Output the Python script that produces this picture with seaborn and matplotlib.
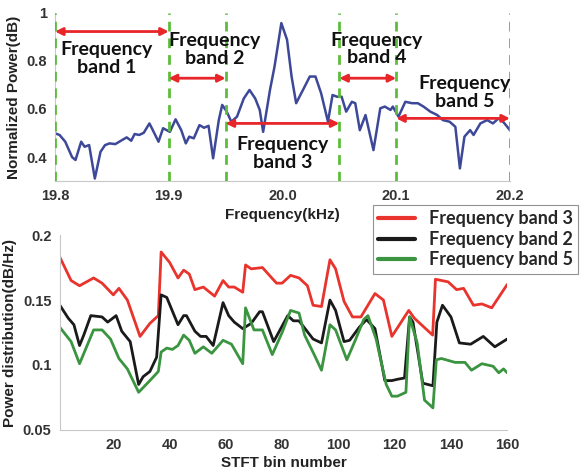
import matplotlib
matplotlib.use("Agg")
import matplotlib.pyplot as plt
import seaborn as sns
import numpy as np
import pandas as pd

# ---- top panel data: normalized power vs frequency ----
freq_khz = [19.800, 19.804, 19.809, 19.815, 19.818, 19.823, 19.826, 19.830, 19.835, 19.840,
            19.844, 19.848, 19.853, 19.859, 19.863, 19.867, 19.870, 19.874, 19.878, 19.883,
            19.886, 19.891, 19.895, 19.901, 19.906, 19.911, 19.915, 19.918, 19.922, 19.927,
            19.931, 19.935, 19.939, 19.944, 19.947, 19.951, 19.955, 19.960, 19.966, 19.971,
            19.976, 19.980, 19.983, 19.989, 19.993, 19.999, 20.004, 20.008, 20.012, 20.018,
            20.024, 20.029, 20.034, 20.040, 20.044, 20.048, 20.052, 20.056, 20.061, 20.064,
            20.068, 20.073, 20.080, 20.086, 20.090, 20.095, 20.097, 20.102, 20.108, 20.114,
            20.119, 20.124, 20.130, 20.136, 20.141, 20.147, 20.152, 20.156, 20.160, 20.165,
            20.168, 20.174, 20.180, 20.185, 20.190, 20.194, 20.200]
norm_power = [0.499, 0.492, 0.464, 0.400, 0.388, 0.464, 0.443, 0.450, 0.311, 0.422,
              0.450, 0.457, 0.454, 0.471, 0.482, 0.468, 0.496, 0.492, 0.501, 0.540,
              0.512, 0.464, 0.520, 0.505, 0.557, 0.512, 0.457, 0.485, 0.478, 0.533,
              0.522, 0.530, 0.395, 0.554, 0.617, 0.589, 0.547, 0.568, 0.644, 0.679,
              0.644, 0.596, 0.505, 0.679, 0.776, 0.957, 0.888, 0.735, 0.624, 0.679,
              0.735, 0.735, 0.665, 0.547, 0.658, 0.651, 0.651, 0.589, 0.630, 0.624,
              0.512, 0.575, 0.429, 0.603, 0.610, 0.596, 0.610, 0.568, 0.630, 0.624,
              0.624, 0.610, 0.589, 0.575, 0.554, 0.547, 0.526, 0.353, 0.485, 0.512,
              0.492, 0.540, 0.554, 0.540, 0.561, 0.547, 0.512]

band_edges = [19.80, 19.90, 19.95, 20.05, 20.10, 20.20]
band_names = ["Frequency\nband 1", "Frequency\nband 2", "Frequency\nband 3",
              "Frequency\nband 4", "Frequency\nband 5"]

# ---- bottom panel data: power distribution vs STFT bin ----
red_bins = [1, 5, 8, 13, 16, 20, 22, 25, 29.5, 33, 36, 37, 40, 43, 45, 47, 49, 52, 56, 59,
            61, 63, 66, 67, 69, 73, 78, 80, 83, 86, 89, 91, 94, 97, 99, 102, 105, 108, 113,
            116, 119, 125, 127, 133.5, 134.5, 139, 142, 144.5, 148, 151, 154.5, 160]
red_vals = [0.183, 0.165, 0.161, 0.167, 0.163, 0.154, 0.159, 0.150, 0.122, 0.132, 0.138, 0.187,
            0.179, 0.167, 0.173, 0.170, 0.158, 0.160, 0.153, 0.165, 0.160, 0.160, 0.156, 0.177,
            0.174, 0.175, 0.163, 0.163, 0.169, 0.167, 0.161, 0.146, 0.145, 0.181, 0.174, 0.149,
            0.137, 0.137, 0.155, 0.150, 0.122, 0.142, 0.136, 0.123, 0.166, 0.164, 0.158, 0.159,
            0.146, 0.147, 0.144, 0.162]

black_bins = [1, 4, 6, 8, 9.5, 12, 16, 18, 21, 23, 26, 29, 30.6, 33, 35.4, 37, 39, 43, 45, 46,
              49, 51, 53, 55.5, 59, 61, 63, 66, 69, 72, 73, 77, 79.5, 82, 84, 86, 91, 94, 97,
              99, 102, 104, 107.4, 110, 113, 116.5, 119, 121, 123.5, 125.3, 126.5, 130, 133.6,
              135, 137, 140, 143, 147, 151.5, 155.6, 160]
black_vals = [0.146, 0.136, 0.131, 0.115, 0.123, 0.138, 0.137, 0.133, 0.138, 0.126, 0.118, 0.085,
              0.091, 0.095, 0.106, 0.154, 0.152, 0.131, 0.138, 0.138, 0.126, 0.122, 0.122, 0.115,
              0.148, 0.138, 0.133, 0.128, 0.132, 0.141, 0.141, 0.118, 0.128, 0.138, 0.134, 0.134,
              0.120, 0.117, 0.150, 0.142, 0.118, 0.119, 0.129, 0.135, 0.128, 0.088, 0.088, 0.089,
              0.090, 0.137, 0.133, 0.086, 0.084, 0.133, 0.146, 0.137, 0.117, 0.116, 0.122, 0.114,
              0.120]

green_bins = [1, 5, 8, 13, 16, 19, 22, 25, 29, 33, 36, 37, 39, 41, 43, 45, 47, 49, 52, 55, 59,
              62, 66, 67, 70, 73, 76.5, 80, 83, 86, 88, 91.4, 94, 97, 99, 103, 106, 109, 110.5,
              113.4, 117, 119, 121, 124, 125.3, 128, 130.6, 133.6, 134.8, 136.6, 141.5, 145,
              147.3, 151, 155, 157, 158.7, 160]
green_vals = [0.129, 0.118, 0.101, 0.127, 0.127, 0.120, 0.105, 0.097, 0.079, 0.088, 0.095, 0.110,
              0.113, 0.112, 0.115, 0.123, 0.119, 0.109, 0.114, 0.109, 0.119, 0.116, 0.101, 0.144,
              0.127, 0.127, 0.108, 0.125, 0.142, 0.140, 0.123, 0.108, 0.096, 0.131, 0.127, 0.104,
              0.119, 0.135, 0.138, 0.120, 0.085, 0.076, 0.076, 0.079, 0.137, 0.117, 0.073, 0.067,
              0.104, 0.105, 0.102, 0.102, 0.096, 0.101, 0.099, 0.094, 0.097, 0.094]

series_labels = ["Frequency band 3", "Frequency band 2", "Frequency band 5"]
series_colors = ["#e8342c", "#1a1a1a", "#3a9440"]

sns.set_style("white")
plt.rcParams['font.family'] = ['Liberation Sans', 'DejaVu Sans']

fig = plt.figure(figsize=(5.81, 4.73), dpi=100)
ax1 = fig.add_axes([0.0947, 0.617, 0.783, 0.356])
ax2 = fig.add_axes([0.103, 0.091, 0.770, 0.412])

tick_color = "#333333"
spine_color = "#c8c8c8"
ann_font = ['Lato', 'DejaVu Sans']

# top panel
top_df = pd.DataFrame({"f": freq_khz, "p": norm_power})
sns.lineplot(data=top_df, x="f", y="p", ax=ax1, color="#3d4899", lw=1.8)
for e in band_edges:
    ax1.axvline(e, color="#5cbd3a", lw=2, ls=(0, (3.5, 2.5)), zorder=3)

arrow_y = [0.922, 0.728, 0.540, 0.728, 0.561]
label_pos = [(19.845, 0.81), (19.94, 0.846), (20.0, 0.415), (20.083, 0.85), (20.160, 0.668)]
for i in range(5):
    ax1.annotate("", xy=(band_edges[i], arrow_y[i]), xytext=(band_edges[i + 1], arrow_y[i]),
                 arrowprops=dict(arrowstyle="<|-|>", color="#e8262a", lw=2,
                                 mutation_scale=11, shrinkA=0, shrinkB=0), zorder=4)
    ax1.text(label_pos[i][0], label_pos[i][1], band_names[i], ha="center", va="center",
             fontsize=14, fontweight="bold", family=ann_font, color="#111111",
             linespacing=1.05, zorder=5)

ax1.set_xlim(19.8, 20.2)
ax1.set_ylim(0.3, 1.0)
ax1.set_xticks([19.8, 19.9, 20.0, 20.1, 20.2])
ax1.set_xticklabels(["19.8", "19.9", "20.0", "20.1", "20.2"])
ax1.set_xticks([19.85, 19.95, 20.05, 20.15], minor=True)
ax1.set_yticks([0.4, 0.6, 0.8, 1.0])
ax1.set_yticklabels(["0.4", "0.6", "0.8", "1"])
ax1.set_xlabel("Frequency(kHz)", fontsize=11, fontweight="bold", color="#222222", labelpad=3)
ax1.set_ylabel("Normalized Power(dB)", fontsize=11, fontweight="bold", color="#222222", labelpad=4)

# bottom panel
for bins, vals, lab, col in [(red_bins, red_vals, series_labels[0], series_colors[0]),
                             (black_bins, black_vals, series_labels[1], series_colors[1]),
                             (green_bins, green_vals, series_labels[2], series_colors[2])]:
    d = pd.DataFrame({"bin": bins, "val": vals})
    sns.lineplot(data=d, x="bin", y="val", ax=ax2, color=col, lw=2, label=lab)

ax2.set_xlim(1, 160)
ax2.set_ylim(0.05, 0.2)
ax2.set_xticks([20, 40, 60, 80, 100, 120, 140, 160])
ax2.set_yticks([0.05, 0.1, 0.15, 0.2])
ax2.set_yticklabels(["0.05", "0.1", "0.15", "0.2"])
ax2.set_xlabel("STFT bin number", fontsize=11, fontweight="bold", color="#222222", labelpad=3)
ax2.set_ylabel("Power distribution(dB/Hz)", fontsize=11, fontweight="bold", color="#222222", labelpad=4)

leg = ax2.legend(loc="upper left", bbox_to_anchor=(0.642, 0.567), bbox_transform=fig.transFigure,
                 frameon=True, fancybox=False, borderpad=0.3, handlelength=2.0, handletextpad=0.8,
                 labelspacing=0.2, borderaxespad=0,
                 prop=dict(family=ann_font, weight="bold", size=13))
leg.get_frame().set_edgecolor("#777777")
leg.get_frame().set_linewidth(0.8)
for h in leg.get_lines():
    h.set_linewidth(3)

for ax in (ax1, ax2):
    for s in ["top", "right"]:
        ax.spines[s].set_visible(False)
    for s in ["left", "bottom"]:
        ax.spines[s].set_color(spine_color)
        ax.spines[s].set_linewidth(0.8)
    ax.tick_params(which="both", direction="in", color=spine_color, length=3, width=0.8,
                   labelsize=10.5, labelcolor=tick_color, pad=6)
    for lbl in ax.get_xticklabels() + ax.get_yticklabels():
        lbl.set_fontweight("bold")

fig.savefig("out.png", dpi=100)
